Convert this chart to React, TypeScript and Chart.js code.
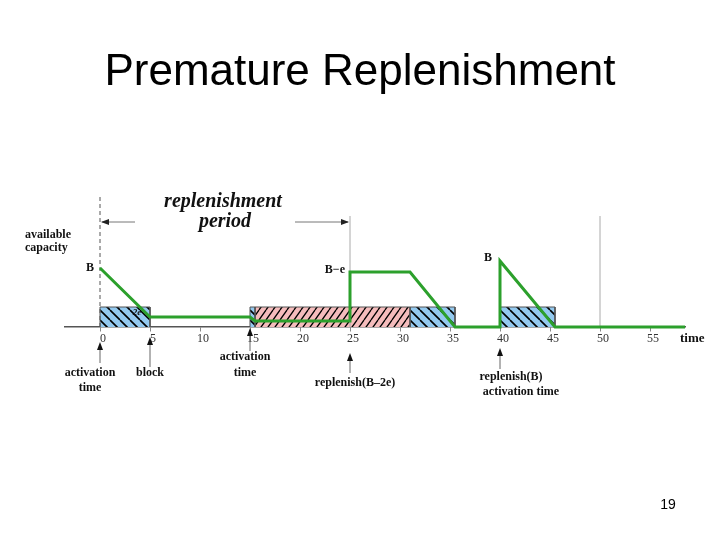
import React, { useEffect, useRef } from "react";
import { Chart, registerables } from "chart.js";

Chart.register(...registerables);

// ---- data ----
const TITLE = "Premature Replenishment";
const PAGE_NUMBER = "19";
const TIME_TICKS = [0, 5, 10, 15, 20, 25, 30, 35, 40, 45, 50, 55];
const TIME_MIN = -3.5;
const TIME_MAX = 58.5;

// available capacity (green line)
const CAPACITY_T = [0, 5, 15, 15.5, 25, 25, 31, 35.5, 40, 40, 45.5, 58.5];
const CAPACITY_V = [5.9, 1.0, 1.0, 0.6, 0.6, 5.5, 5.5, 0, 0, 6.6, 0, 0];

// execution blocks
const BLOCK_START = [0, 15, 15.5, 31, 40];
const BLOCK_END = [5, 15.5, 31, 35.5, 45.5];
const BLOCK_KIND = ["server", "server", "other", "server", "server"];
const BLOCK_HEIGHT = 2.0;

// vertical guide lines
const GUIDE_T = [0, 25, 50];
const GUIDE_TOP = [13.1, 11.1, 11.1];

// replenishment period arrow
const PERIOD_FROM = 0;
const PERIOD_TO = 25;
const PERIOD_LEVEL = 10.5;
const PERIOD_TEXT = ["replenishment", "period"];

// level labels
const LEVEL_TEXT = ["B", "B\u2212e", "B"];
const LEVEL_T = [0, 25, 40];
const LEVEL_V = [5.9, 5.5, 6.6];

// event labels below the axis
const EVENT_T = [0, 5, 15, 25, 40];
const EVENT_TEXT = [
  ["activation", "time"],
  ["block"],
  ["activation", "time"],
  ["replenish(B\u20132e)"],
  ["replenish(B)", "activation time"],
];

const SERIF = '"Liberation Serif", "Times New Roman", serif';
const SANS = '"Liberation Sans", Arial, sans-serif';

function makeHatch(
  bg: string,
  w: number,
  h: number,
  slash: boolean,
  lw: number
): CanvasPattern | string {
  const c = document.createElement("canvas");
  c.width = w;
  c.height = h;
  const g = c.getContext("2d");
  if (!g) return bg;
  g.fillStyle = bg;
  g.fillRect(0, 0, w, h);
  g.strokeStyle = "#000";
  g.lineWidth = lw;
  g.beginPath();
  if (slash) {
    g.moveTo(0, h);
    g.lineTo(w, 0);
    g.moveTo(-w, h);
    g.lineTo(0, 0);
    g.moveTo(w, h);
    g.lineTo(2 * w, 0);
  } else {
    g.moveTo(0, 0);
    g.lineTo(w, h);
    g.moveTo(-w, 0);
    g.lineTo(0, h);
    g.moveTo(w, 0);
    g.lineTo(2 * w, h);
  }
  g.stroke();
  const p = g.createPattern(c, "repeat");
  return p || bg;
}

function arrowHead(
  ctx: CanvasRenderingContext2D,
  x: number,
  y: number,
  dir: "up" | "left" | "right",
  len: number,
  half: number
) {
  ctx.beginPath();
  if (dir === "up") {
    ctx.moveTo(x, y);
    ctx.lineTo(x - half, y + len);
    ctx.lineTo(x + half, y + len);
  } else if (dir === "left") {
    ctx.moveTo(x, y);
    ctx.lineTo(x + len, y - half);
    ctx.lineTo(x + len, y + half);
  } else {
    ctx.moveTo(x, y);
    ctx.lineTo(x - len, y - half);
    ctx.lineTo(x - len, y + half);
  }
  ctx.closePath();
  ctx.fill();
}

const annotationPlugin = {
  id: "annotations",
  afterDraw(chart: any) {
    const ctx: CanvasRenderingContext2D = chart.ctx;
    const xs = chart.scales.x;
    const ys = chart.scales.y;
    const px = (v: number) => xs.getPixelForValue(v);
    const py = (v: number) => ys.getPixelForValue(v);
    ctx.save();

    // title
    ctx.fillStyle = "#000";
    ctx.textAlign = "center";
    ctx.textBaseline = "alphabetic";
    ctx.font = `44px ${SANS}`;
    ctx.fillText(TITLE, 360, 85);
    ctx.font = `14px ${SANS}`;
    ctx.fillText(PAGE_NUMBER, 668, 509);

    // replenishment period arrow
    const ay = py(PERIOD_LEVEL);
    const ax0 = px(PERIOD_FROM);
    const ax1 = px(PERIOD_TO);
    ctx.strokeStyle = "#777";
    ctx.lineWidth = 1;
    ctx.beginPath();
    ctx.moveTo(ax0 + 2, ay);
    ctx.lineTo(ax0 + 35, ay);
    ctx.moveTo(ax1 - 55, ay);
    ctx.lineTo(ax1 - 2, ay);
    ctx.stroke();
    ctx.fillStyle = "#222";
    arrowHead(ctx, ax0 + 1, ay, "left", 8, 3);
    arrowHead(ctx, ax1 - 1, ay, "right", 8, 3);
    ctx.font = `italic bold 20px ${SERIF}`;
    ctx.fillStyle = "#111";
    ctx.textAlign = "center";
    const mid = (ax0 + ax1) / 2 - 2;
    ctx.fillText(PERIOD_TEXT[0], mid, 207);
    ctx.fillText(PERIOD_TEXT[1], mid + 2, 227);

    // y-axis caption
    ctx.font = `bold 12px ${SERIF}`;
    ctx.textAlign = "left";
    ctx.fillText("available", 25, 238);
    ctx.fillText("capacity", 25, 251);

    // level labels
    ctx.textBaseline = "middle";
    ctx.font = `bold 12px ${SERIF}`;
    ctx.textAlign = "right";
    ctx.fillText(LEVEL_TEXT[0], px(LEVEL_T[0]) - 6, py(LEVEL_V[0]));
    ctx.fillText(LEVEL_TEXT[1], px(LEVEL_T[1]) - 5, py(LEVEL_V[1]) - 2);
    ctx.textAlign = "center";
    ctx.fillText(LEVEL_TEXT[2], px(LEVEL_T[2]) - 12, py(LEVEL_V[2]) - 3);

    // small "2e" label in the first block
    ctx.font = `italic bold 9px ${SERIF}`;
    ctx.fillText("2e", px(3.7), py(1.4));

    // time label
    ctx.font = `bold 13px ${SERIF}`;
    ctx.textAlign = "left";
    ctx.fillText("time", 680, py(0) + 12);

    // event arrows and labels
    const base = py(0);
    const shaftTop = [base + 15, base + 10, base + 1, base + 26, base + 21];
    const shaftBot = [base + 36, base + 40, base + 24, base + 46, base + 42];
    const textDx = [-10, 0, -5, 5, 11];
    const textY = [[base + 46, base + 61], [base + 46], [base + 30, base + 46], [base + 56], [base + 50, base + 65]];
    ctx.save();
    ctx.beginPath();
    ctx.rect(0, 0, 720, 397);
    ctx.clip();
    for (let i = 0; i < EVENT_T.length; i++) {
      const x = px(EVENT_T[i]);
      ctx.strokeStyle = "#666";
      ctx.lineWidth = 1;
      ctx.beginPath();
      ctx.moveTo(x, shaftTop[i] + 6);
      ctx.lineTo(x, shaftBot[i]);
      ctx.stroke();
      ctx.fillStyle = "#111";
      arrowHead(ctx, x, shaftTop[i], "up", 8, 3);
      ctx.font = `bold 12px ${SERIF}`;
      ctx.textAlign = "center";
      ctx.textBaseline = "middle";
      const lines = EVENT_TEXT[i];
      for (let j = 0; j < lines.length; j++) {
        const dx = i === 4 && j === 1 ? textDx[i] + 10 : textDx[i];
        ctx.fillText(lines[j], x + dx, textY[i][j]);
      }
    }
    ctx.restore();

    ctx.restore();
  },
};

export default function App() {
  const canvasRef = useRef<HTMLCanvasElement | null>(null);

  useEffect(() => {
    const canvas = canvasRef.current;
    if (!canvas) return;

    const blueHatch = makeHatch("#93c9ef", 10, 10, false, 1.6);
    const pinkHatch = makeHatch("#f5bcbc", 7, 10, true, 1.3);

    const blockSets = BLOCK_START.map((s, i) => ({
      label: "block" + i,
      data: [
        { x: s, y: 0 },
        { x: s, y: BLOCK_HEIGHT },
        { x: BLOCK_END[i], y: BLOCK_HEIGHT },
        { x: BLOCK_END[i], y: 0 },
      ],
      borderColor: "#555",
      borderWidth: 1,
      backgroundColor: BLOCK_KIND[i] === "server" ? blueHatch : pinkHatch,
      fill: "origin",
      pointRadius: 0,
      tension: 0,
      order: 3,
    }));

    const guideSets = GUIDE_T.map((t, i) => ({
      label: "guide" + i,
      data: [
        { x: t, y: 0 },
        { x: t, y: GUIDE_TOP[i] },
      ],
      borderColor: i === 0 ? "#555" : "#aaa",
      borderWidth: 1,
      borderDash: i === 0 ? [4, 3] : [],
      fill: false,
      pointRadius: 0,
      order: 2,
    }));

    const capacitySet = {
      label: "available capacity",
      data: CAPACITY_T.map((t, i) => ({ x: t, y: CAPACITY_V[i] })),
      borderColor: "#2ca02c",
      borderWidth: 3,
      fill: false,
      pointRadius: 0,
      tension: 0,
      borderJoinStyle: "miter" as const,
      order: 0,
    };

    const chart = new Chart(canvas, {
      type: "line",
      data: { datasets: [...blockSets, ...guideSets, capacitySet] as any },
      options: {
        responsive: false,
        animation: false,
        events: [],
        layout: { padding: { left: 65, right: 35, top: 187, bottom: 73 } },
        plugins: {
          legend: { display: false },
          tooltip: { enabled: false },
          title: { display: false },
        },
        scales: {
          x: {
            type: "linear",
            min: TIME_MIN,
            max: TIME_MAX,
            position: { y: 0 } as any,
            afterBuildTicks: (scale: any) => {
              scale.ticks = TIME_TICKS.map((v) => ({ value: v }));
            },
            border: { display: true, color: "#555", width: 1.5 },
            grid: {
              display: true,
              drawOnChartArea: false,
              drawTicks: true,
              tickLength: 4,
              color: "#888",
            },
            ticks: {
              color: "#333",
              padding: 1,
              labelOffset: 3,
              maxRotation: 0,
              autoSkip: false,
              font: { family: SERIF, size: 12 },
              callback: (v: any) => String(v),
            },
          },
          y: {
            type: "linear",
            display: false,
            min: -14,
            max: 14,
          },
        },
      },
      plugins: [annotationPlugin],
    });

    return () => chart.destroy();
  }, []);

  return (
    <div style={{ position: "absolute", left: 0, top: 0, width: 720, height: 540, background: "#fff" }}>
      <canvas ref={canvasRef} width={720} height={540} style={{ display: "block" }} />
    </div>
  );
}
